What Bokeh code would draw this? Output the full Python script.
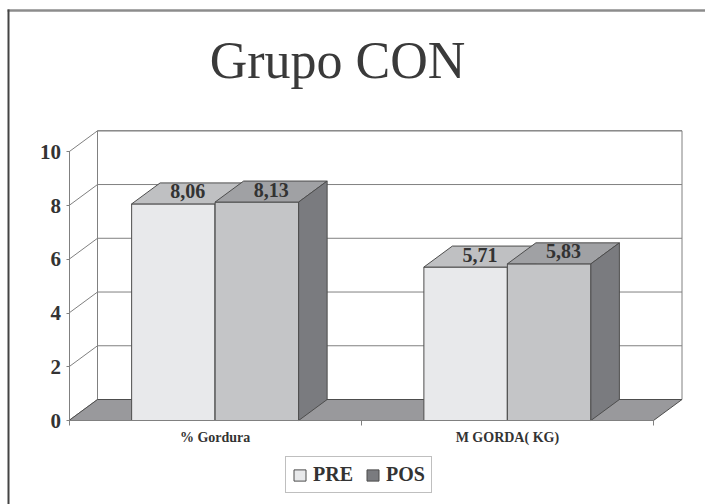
from bokeh.plotting import figure
from bokeh.models import Range1d, LinearAxis, FixedTicker, Legend, LegendItem
from bokeh.core.properties import value
from bokeh.embed import file_html
from bokeh.resources import INLINE

# ---- data ----
title_text = "Grupo CON"
categories = ["% Gordura", "M GORDA( KG)"]
series = ["PRE", "POS"]
pre_vals = [8.06, 5.71]
pos_vals = [8.13, 5.83]
y_ticks = [0, 2, 4, 6, 8, 10]

# ---- layout (screen pixels) ----
W, H = 705, 504
X0_PX, XN_PX = 68.5, 653.0      # front x-axis start / end
Y0_PX, YTOP_PX = 420.0, 151.3   # front y=0 and y=max (from top of page)
DEPTH_X_PX, DEPTH_Y_PX = 28.5, 21.0

n = len(categories)
ymax = y_ticks[-1]
ux = (XN_PX - X0_PX) / n
uy = (Y0_PX - YTOP_PX) / ymax
dx = DEPTH_X_PX / ux
dy = DEPTH_Y_PX / uy


def sx(px):
    return (px - X0_PX) / ux


def sy(py):
    return (Y0_PX - py) / uy


p = figure(width=W, height=H,
           x_range=Range1d(sx(0), sx(W)), y_range=Range1d(sy(H), sy(0)),
           x_axis_type=None, y_axis_type=None,
           toolbar_location=None, output_backend="svg",
           min_border=0, outline_line_color=None,
           background_fill_color="white", border_fill_color="white")

GRID = "#808080"
EDGE = "#4d4d4d"

# back wall with gridlines
p.quad(left=dx, right=n + dx, bottom=dy, top=ymax + dy,
       fill_color="white", line_color=GRID, line_width=1)
p.segment(x0=[dx] * len(y_ticks), y0=[t + dy for t in y_ticks],
          x1=[n + dx] * len(y_ticks), y1=[t + dy for t in y_ticks],
          line_color=GRID, line_width=1)
# side wall: diagonals from the front axis to the back wall
p.segment(x0=[0] * len(y_ticks), y0=y_ticks,
          x1=[dx] * len(y_ticks), y1=[t + dy for t in y_ticks],
          line_color=GRID, line_width=1)
# floor
p.patch(x=[0, n, n + dx, dx], y=[0, 0, dy, dy],
        fill_color="#99999c", line_color=EDGE, line_width=1)

# 3D bars (gap width 150%)
bar_w = 1.0 / (len(series) + 1.5)
gap = 0.75 * bar_w
styles = {
    "PRE": dict(front="#e8e9eb", top="#bfc0c2", side="#8a8b8e"),
    "POS": dict(front="#c4c5c7", top="#a0a1a4", side="#7a7b7f"),
}
renderers = {}
for j, (name, vals) in enumerate(zip(series, [pre_vals, pos_vals])):
    lefts = [i + gap + j * bar_w for i in range(n)]
    rights = [l + bar_w for l in lefts]
    st = styles[name]
    front = p.quad(left=lefts, right=rights, bottom=0, top=vals,
                   fill_color=st["front"], line_color=EDGE, line_width=1)
    p.patches(xs=[[l, r, r + dx, l + dx] for l, r in zip(lefts, rights)],
              ys=[[v, v, v + dy, v + dy] for v in vals],
              fill_color=st["top"], line_color=EDGE, line_width=1)
    side = p.patches(xs=[[r, r + dx, r + dx, r] for r in rights],
                     ys=[[0, dy, v + dy, v] for v in vals],
                     fill_color=st["side"], line_color=EDGE, line_width=1)
    renderers[name] = front if name == "PRE" else side
    # value labels on the top faces
    p.text(x=[(l + r) / 2 + dx / 2 for l, r in zip(lefts, rights)],
           y=[v + dy / 2 for v in vals],
           text=[f"{v:.2f}".replace(".", ",") for v in vals],
           text_align="center", text_baseline="alphabetic", y_offset=-2,
           text_font=value("Liberation Serif"), text_font_style="bold",
           text_font_size="20px", text_color="#333333")

# front value axis
yaxis = LinearAxis(fixed_location=0, bounds=(0, ymax),
                   ticker=FixedTicker(ticks=y_ticks),
                   axis_line_color=GRID, major_tick_line_color=GRID,
                   major_tick_out=3, major_tick_in=0,
                   minor_tick_line_color=None, major_label_standoff=5,
                   major_label_text_font="Liberation Serif",
                   major_label_text_font_style="bold",
                   major_label_text_font_size="21px",
                   major_label_text_color="#333333")
p.add_layout(yaxis, "left")

# category axis: boundary ticks, then the labels centred in each slot
xticks = LinearAxis(fixed_location=0, bounds=(0, n),
                    ticker=FixedTicker(ticks=list(range(n + 1))),
                    major_label_overrides={k: "" for k in range(n + 1)},
                    axis_line_color=GRID, major_tick_line_color=GRID,
                    major_tick_out=5, major_tick_in=0,
                    minor_tick_line_color=None)
p.add_layout(xticks, "below")
xlabels = LinearAxis(fixed_location=0,
                     ticker=FixedTicker(ticks=[i + 0.5 for i in range(n)]),
                     major_label_overrides={i + 0.5: c for i, c in enumerate(categories)},
                     axis_line_color=None, major_tick_line_color=None,
                     minor_tick_line_color=None,
                     major_tick_out=0, major_tick_in=0, major_label_standoff=9,
                     major_label_text_font="Liberation Serif",
                     major_label_text_font_style="bold",
                     major_label_text_font_size="14px",
                     major_label_text_color="#333333")
p.add_layout(xlabels, "below")

# title
p.text(x=[sx(337)], y=[sy(60)], text=[title_text],
       text_align="center", text_baseline="alphabetic",
       text_font=value("Liberation Serif"), text_font_size="52px",
       text_color="#3a3a3a")

# chart-area border (top and left edges)
p.segment(x0=[sx(7)], y0=[sy(10)], x1=[sx(W)], y1=[sy(10)],
          line_color="#8c8c8c", line_width=2.5)
p.segment(x0=[sx(8)], y0=[sy(9)], x1=[sx(8)], y1=[sy(H)],
          line_color="#444444", line_width=2)

legend = Legend(items=[LegendItem(label=s, renderers=[renderers[s]]) for s in series],
                orientation="horizontal", location=(285, H - 493),
                margin=0, padding=6, spacing=12,
                glyph_width=15, glyph_height=14, label_standoff=6,
                label_text_font="Liberation Serif", label_text_font_style="bold",
                label_text_font_size="20px", label_text_color="#333333",
                border_line_color="#7f7f7f", border_line_width=1,
                background_fill_color="white", background_fill_alpha=1)
p.add_layout(legend)

open("out.html", "w").write(file_html(p, INLINE))
